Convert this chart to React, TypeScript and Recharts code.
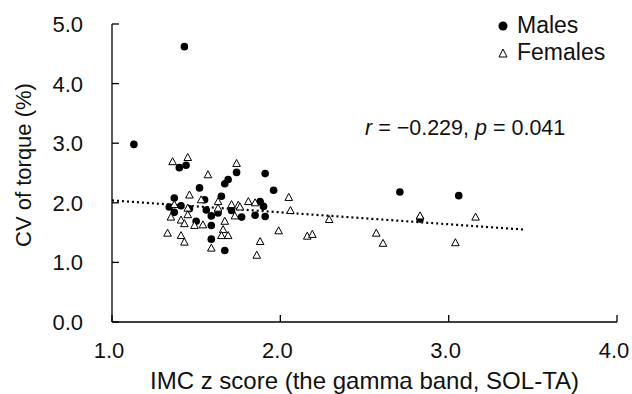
import { ScatterChart, Scatter, XAxis, YAxis, ReferenceLine, Legend } from 'recharts';

const FONT = "'Liberation Sans', Arial, sans-serif";

// IMC z score / CV of torque
const maleX = [1.13, 1.43, 1.4, 1.44, 1.74, 1.69, 1.67, 1.91, 1.96, 1.52, 1.37, 1.55, 1.65, 1.34, 1.41, 1.37, 1.46, 1.56, 1.59, 1.63, 1.71, 1.77, 1.85, 1.88, 1.9, 1.91, 1.5, 1.59, 1.59, 1.67, 2.71, 3.06, 2.83];
const maleY = [2.98, 4.62, 2.59, 2.63, 2.51, 2.39, 2.32, 2.49, 2.21, 2.25, 2.08, 2.05, 2.11, 1.93, 1.95, 1.84, 1.9, 1.88, 1.78, 1.83, 1.87, 1.76, 1.79, 2.02, 1.94, 1.77, 1.69, 1.62, 1.39, 1.2, 2.18, 2.12, 1.73];

const femaleX = [1.36, 1.45, 1.74, 1.57, 1.46, 1.53, 1.63, 1.71, 1.75, 1.81, 1.85, 2.05, 2.06, 1.37, 1.45, 1.63, 1.76, 1.35, 1.45, 1.73, 1.41, 1.43, 1.49, 1.54, 1.67, 1.33, 1.41, 1.43, 1.66, 1.69, 1.65, 1.59, 1.88, 1.86, 1.99, 2.16, 2.19, 2.29, 2.57, 2.61, 2.83, 3.04, 3.16];
const femaleY = [2.69, 2.76, 2.66, 2.47, 2.13, 2.05, 2.02, 1.97, 1.96, 2.02, 2.0, 2.09, 1.87, 1.97, 1.91, 1.91, 1.93, 1.76, 1.8, 1.78, 1.71, 1.65, 1.62, 1.63, 1.69, 1.49, 1.45, 1.34, 1.55, 1.45, 1.45, 1.24, 1.35, 1.12, 1.53, 1.44, 1.47, 1.72, 1.49, 1.32, 1.78, 1.33, 1.76];

// regression line end points
const trendX = [1.0, 3.45];
const trendY = [2.04, 1.55];

const xTicks = [1, 2, 3, 4];
const yTicks = [0, 1, 2, 3, 4, 5];

const males = maleX.map((x, i) => ({ x, y: maleY[i] }));
const females = femaleX.map((x, i) => ({ x, y: femaleY[i] }));
const trend = trendX.map((x, i) => ({ x, y: trendY[i] }));

const Circle = (props: any) => <circle cx={props.cx} cy={props.cy} r={3.8} fill="#000" />;

const Triangle = (props: any) => {
  const { cx, cy } = props;
  return (
    <polygon
      points={`${cx},${cy - 4} ${cx - 3.8},${cy + 3} ${cx + 3.8},${cy + 3}`}
      fill="#fff"
      stroke="#000"
      strokeWidth={1}
    />
  );
};

const XTick = (props: any) => {
  const { x, y, payload } = props;
  return (
    <g>
      <line x1={x} y1={y} x2={x} y2={y - 7} stroke="#000" strokeWidth={1.3} />
      <text x={x - 3} y={y + 36} textAnchor="middle" fontSize={22} fontFamily={FONT} fill="#111">
        {payload.value.toFixed(1)}
      </text>
    </g>
  );
};

const YTick = (props: any) => {
  const { x, y, payload } = props;
  return (
    <g>
      <line x1={x} y1={y} x2={x + 7} y2={y} stroke="#000" strokeWidth={1.3} />
      <text x={x - 29} y={y + 8} textAnchor="end" fontSize={22} fontFamily={FONT} fill="#111">
        {payload.value.toFixed(1)}
      </text>
    </g>
  );
};

const YTitle = (props: any) => {
  const { viewBox } = props;
  const cx = 31;
  const cy = viewBox.y + viewBox.height / 2 - 8;
  return (
    <text
      x={cx}
      y={cy}
      transform={`rotate(-90 ${cx} ${cy})`}
      textAnchor="middle"
      fontSize={22}
      fontFamily={FONT}
      fill="#111"
    >
      CV of torque (%)
    </text>
  );
};

const renderLegend = () => (
  <div style={{ fontFamily: FONT, fontSize: 23, color: '#111', lineHeight: '27px' }}>
    <div style={{ display: 'flex', alignItems: 'center' }}>
      <svg width={14} height={14} style={{ marginRight: 7 }}>
        <circle cx={7} cy={7} r={4.5} fill="#000" />
      </svg>
      Males
    </div>
    <div style={{ display: 'flex', alignItems: 'center' }}>
      <svg width={14} height={14} style={{ marginRight: 7 }}>
        <polygon points="7,3 3,11 11,11" fill="#fff" stroke="#000" strokeWidth={1} />
      </svg>
      Females
    </div>
  </div>
);

export default function App() {
  return (
    <div style={{ position: 'absolute', left: 0, top: 0, width: 632, height: 394, background: '#fff' }}>
      <ScatterChart width={632} height={394} margin={{ top: 24, right: 15, bottom: 0, left: 0 }}>
        <XAxis
          type="number"
          dataKey="x"
          domain={[1, 4]}
          ticks={xTicks}
          interval={0}
          height={72}
          tickSize={0}
          tickMargin={0}
          tick={<XTick />}
          axisLine={{ stroke: '#000', strokeWidth: 1.3 }}
          label={{
            value: 'IMC z score (the gamma band, SOL-TA)',
            position: 'insideBottom',
            offset: 5,
            style: { fontFamily: FONT, fontSize: 24, fill: '#111' },
          }}
        />
        <YAxis
          type="number"
          dataKey="y"
          domain={[0, 5]}
          ticks={yTicks}
          interval={0}
          width={112}
          tickSize={0}
          tickMargin={0}
          tick={<YTick />}
          axisLine={{ stroke: '#000', strokeWidth: 1.3 }}
          label={<YTitle />}
        />
        <Legend
          layout="vertical"
          align="center"
          verticalAlign="middle"
          content={renderLegend}
          wrapperStyle={{ top: 12, left: 496, width: 136 }}
        />
        <ReferenceLine
          segment={trend}
          stroke="#000"
          strokeWidth={2.2}
          strokeDasharray="2 3"
          ifOverflow="visible"
        />
        <Scatter name="Males" data={males} shape={<Circle />} isAnimationActive={false} />
        <Scatter name="Females" data={females} shape={<Triangle />} isAnimationActive={false} />
      </ScatterChart>
      <div
        style={{
          position: 'absolute',
          left: 365,
          top: 118,
          fontFamily: FONT,
          fontSize: 21.5,
          lineHeight: 1,
          color: '#111',
          whiteSpace: 'nowrap',
        }}
      >
        <i>r</i> = −0.229, <i>p</i> = 0.041
      </div>
    </div>
  );
}
